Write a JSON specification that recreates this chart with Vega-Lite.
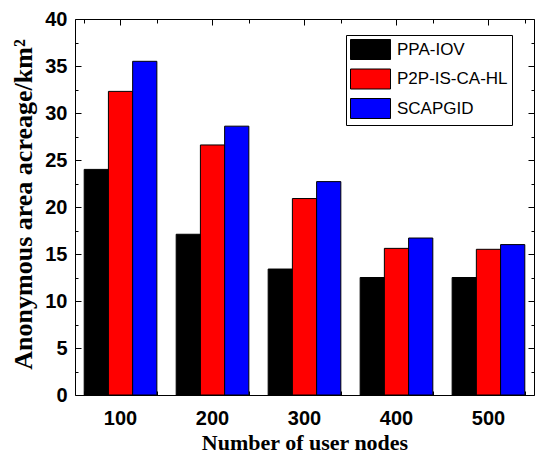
{
  "$schema": "https://vega.github.io/schema/vega-lite/v6.json",
  "width": 459,
  "height": 376,
  "autosize": {"type": "none"},
  "padding": {"left": 75, "top": 19, "right": 1, "bottom": 63},
  "background": "white",
  "data": {
    "values": [
      {"nodes": "100", "method": "PPA-IOV", "area": 24.0},
      {"nodes": "100", "method": "P2P-IS-CA-HL", "area": 32.3},
      {"nodes": "100", "method": "SCAPGID", "area": 35.5},
      {"nodes": "200", "method": "PPA-IOV", "area": 17.1},
      {"nodes": "200", "method": "P2P-IS-CA-HL", "area": 26.6},
      {"nodes": "200", "method": "SCAPGID", "area": 28.6},
      {"nodes": "300", "method": "PPA-IOV", "area": 13.4},
      {"nodes": "300", "method": "P2P-IS-CA-HL", "area": 20.9},
      {"nodes": "300", "method": "SCAPGID", "area": 22.7},
      {"nodes": "400", "method": "PPA-IOV", "area": 12.5},
      {"nodes": "400", "method": "P2P-IS-CA-HL", "area": 15.6},
      {"nodes": "400", "method": "SCAPGID", "area": 16.7},
      {"nodes": "500", "method": "PPA-IOV", "area": 12.5},
      {"nodes": "500", "method": "P2P-IS-CA-HL", "area": 15.5},
      {"nodes": "500", "method": "SCAPGID", "area": 16.0}
    ]
  },
  "config": {
    "view": {"stroke": "black", "strokeWidth": 1},
    "axis": {"domain": false, "grid": false, "tickColor": "black", "tickWidth": 1, "labelColor": "black", "titleColor": "black"}
  },
  "resolve": {"axis": {"x": "independent", "y": "independent"}},
  "layer": [
    {
      "mark": {"type": "bar", "stroke": "black", "strokeWidth": 1},
      "encoding": {
        "x": {"field": "nodes", "type": "nominal", "scale": {"paddingInner": 0.21, "paddingOuter": 0.1},
          "axis": {"orient": "bottom", "labelAngle": 0, "tickSize": -6, "labelPadding": 19, "labelFont": "Liberation Sans", "labelFontSize": 20, "labelFontWeight": "bold", "title": "Number of user nodes", "titleFont": "Liberation Serif", "titleFontSize": 22, "titleFontWeight": "bold", "titlePadding": 4}},
        "xOffset": {"field": "method", "type": "nominal", "sort": ["PPA-IOV", "P2P-IS-CA-HL", "SCAPGID"], "scale": {"paddingInner": 0, "paddingOuter": 0}},
        "y": {"field": "area", "type": "quantitative", "scale": {"domain": [0, 40], "nice": false},
          "axis": {"orient": "left", "values": [0, 5, 10, 15, 20, 25, 30, 35, 40], "tickSize": -6, "labelPadding": 14, "labelFont": "Liberation Sans", "labelFontSize": 20, "labelFontWeight": "bold", "title": "Anonymous area acreage/km²", "titleFont": "Liberation Serif", "titleFontSize": 26, "titleFontWeight": "bold", "titleX": -52, "titleY": 185, "titleBaseline": "middle"}},
        "color": {"field": "method", "type": "nominal", "sort": ["PPA-IOV", "P2P-IS-CA-HL", "SCAPGID"],
          "scale": {"domain": ["PPA-IOV", "P2P-IS-CA-HL", "SCAPGID"], "range": ["#000000", "#ff0000", "#0000ff"]},
          "legend": {"orient": "none", "legendX": 271, "legendY": 16, "title": null, "strokeColor": "black", "fillColor": "white", "padding": 4, "symbolType": "M-1,-1H3V1H-1Z", "symbolSize": 400, "symbolStrokeColor": "black", "symbolStrokeWidth": 1, "symbolOpacity": 1, "labelFont": "Liberation Sans", "labelFontSize": 17, "labelColor": "black", "labelOffset": 26, "rowPadding": 4.5}}
      }
    },
    {
      "mark": {"type": "bar", "opacity": 0},
      "encoding": {
        "x": {"field": "nodes", "type": "nominal", "axis": {"orient": "top", "labels": false, "title": null, "tickSize": -6}},
        "y": {"field": "area", "type": "quantitative", "axis": {"orient": "right", "labels": false, "title": null, "tickSize": -6, "values": [0, 5, 10, 15, 20, 25, 30, 35, 40]}}
      }
    },
    {
      "mark": {"type": "bar", "opacity": 0},
      "encoding": {
        "x": {"field": "nodes", "type": "nominal", "axis": {"orient": "bottom", "labels": false, "title": null, "tickSize": -4, "tickBand": "extent"}},
        "y": {"field": "area", "type": "quantitative", "axis": {"orient": "left", "labels": false, "title": null, "tickSize": -3, "values": [2.5, 7.5, 12.5, 17.5, 22.5, 27.5, 32.5, 37.5]}}
      }
    },
    {
      "mark": {"type": "bar", "opacity": 0},
      "encoding": {
        "x": {"field": "nodes", "type": "nominal", "axis": {"orient": "top", "labels": false, "title": null, "tickSize": -4, "tickBand": "extent"}},
        "y": {"field": "area", "type": "quantitative", "axis": {"orient": "right", "labels": false, "title": null, "tickSize": -3, "values": [2.5, 7.5, 12.5, 17.5, 22.5, 27.5, 32.5, 37.5]}}
      }
    }
  ]
}
